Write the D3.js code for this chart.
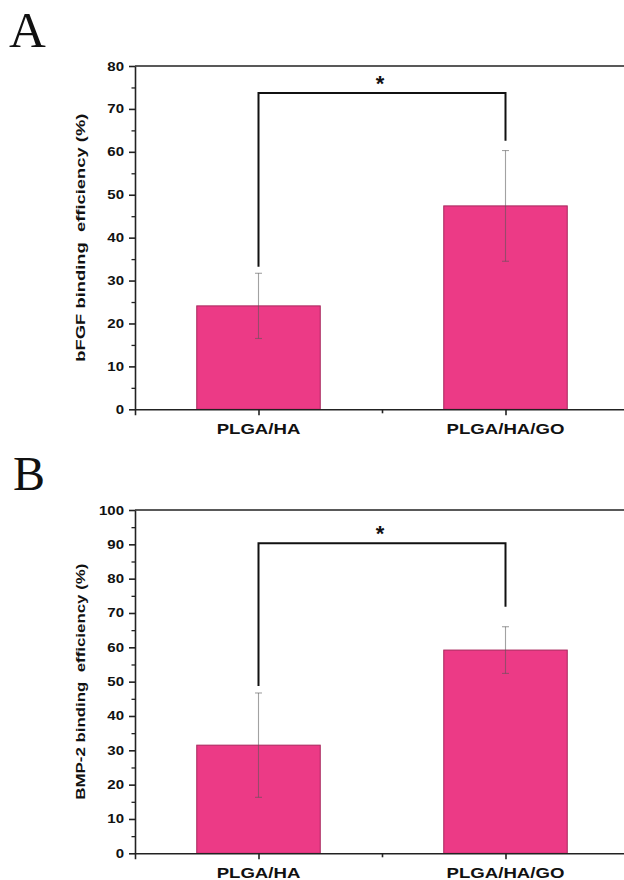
<!DOCTYPE html>
<html>
<head>
<meta charset="utf-8">
<script src="https://cdn.jsdelivr.net/npm/d3@7"></script>
<style>
  html, body { margin: 0; padding: 0; background: #fff; }
  svg { display: block; }
</style>
</head>
<body>
<svg id="chart" width="624" height="880"></svg>
<script>
// ---- data ----
const categories = ["PLGA/HA", "PLGA/HA/GO"];
const bfgfMeans = [24.1, 47.4];
const bfgfErrors = [7.6, 12.9];
const bmp2Means = [31.5, 59.2];
const bmp2Errors = [15.2, 6.8];
const bfgfTicks = [0, 10, 20, 30, 40, 50, 60, 70, 80];
const bmp2Ticks = [0, 10, 20, 30, 40, 50, 60, 70, 80, 90, 100];
// significance bracket: [left leg bottom, bracket top, right leg bottom]
const bfgfBracket = [33.2, 73.7, 62.6];
const bmp2Bracket = [48.7, 90.3, 71.8];
const panelLetters = ["A", "B"];
const yLabels = ["bFGF binding\u00a0\u00a0efficiency (%)", "BMP-2 binding\u00a0\u00a0efficiency (%)"];

const svg = d3.select("#chart");
const SANS = "'Liberation Sans', Arial, sans-serif";
const SERIF = "'Liberation Serif', 'Times New Roman', serif";
const barColor = "#ec3a86";
const barStroke = "#a8275c";

const x = d3.scaleLinear().domain([0.5, 2.5]).range([135, 629]);
const catPos = [1, 2];

function stretch(sel, f) {
  sel.each(function () {
    const L = this.getComputedTextLength();
    d3.select(this).attr("textLength", L * f).attr("lengthAdjust", "spacingAndGlyphs");
  });
}

function panel(cfg) {
  const g = svg.append("g");
  const y = d3.scaleLinear().domain([0, cfg.max]).range([cfg.bottom, cfg.top]);

  // bars
  g.selectAll("rect.bar").data(cfg.means).join("rect")
    .attr("class", "bar")
    .attr("x", (d, i) => x(catPos[i] - 0.25))
    .attr("width", x(1.5) - x(1))
    .attr("y", d => y(d))
    .attr("height", d => y(0) - y(d))
    .attr("fill", barColor)
    .attr("stroke", barStroke)
    .attr("stroke-width", 1);

  // error bars
  const eb = g.selectAll("g.err").data(cfg.means).join("g").attr("class", "err")
    .attr("stroke", "#555").attr("stroke-opacity", 0.55).attr("stroke-width", 1.1);
  eb.append("line")
    .attr("x1", (d, i) => x(catPos[i])).attr("x2", (d, i) => x(catPos[i]))
    .attr("y1", (d, i) => y(d - cfg.errs[i])).attr("y2", (d, i) => y(d + cfg.errs[i]));
  eb.append("line")
    .attr("x1", (d, i) => x(catPos[i]) - 3.5).attr("x2", (d, i) => x(catPos[i]) + 3.5)
    .attr("y1", (d, i) => y(d + cfg.errs[i])).attr("y2", (d, i) => y(d + cfg.errs[i]));
  eb.append("line")
    .attr("x1", (d, i) => x(catPos[i]) - 3.5).attr("x2", (d, i) => x(catPos[i]) + 3.5)
    .attr("y1", (d, i) => y(d - cfg.errs[i])).attr("y2", (d, i) => y(d - cfg.errs[i]));

  // frame: top and right lines
  g.append("line").attr("x1", x(0.5)).attr("x2", x(2.5))
    .attr("y1", y(cfg.max)).attr("y2", y(cfg.max))
    .attr("stroke", "#222").attr("stroke-width", 1.6);
  g.append("line").attr("x1", x(2.5)).attr("x2", x(2.5))
    .attr("y1", y(cfg.max)).attr("y2", y(0))
    .attr("stroke", "#222").attr("stroke-width", 1.6);

  // y axis
  const minor = d3.range(5, cfg.max, 10);
  g.append("g").attr("transform", `translate(${x(0.5)},0)`)
    .call(d3.axisLeft(y).tickValues(minor).tickSize(3.5).tickFormat(""))
    .call(a => a.select(".domain").remove())
    .selectAll("line").attr("stroke", "#222").attr("stroke-width", 1.3);
  const ya = g.append("g").attr("transform", `translate(${x(0.5)},0)`)
    .call(d3.axisLeft(y).tickValues(cfg.ticks).tickSize(6).tickPadding(5).tickSizeOuter(0));
  ya.select(".domain").attr("stroke", "#222").attr("stroke-width", 1.6);
  ya.selectAll("line").attr("stroke", "#222").attr("stroke-width", 1.6);
  ya.selectAll("text").style("font-family", SANS).style("font-size", "12.5px")
    .style("font-weight", "bold").attr("fill", "#111")
    .call(stretch, 1.2);

  // x axis
  const xa = g.append("g").attr("transform", `translate(0,${y(0)})`)
    .call(d3.axisBottom(x).tickValues([1, 1.5, 2, 2.5]).tickSizeOuter(0)
      .tickSize(6).tickFormat(""));
  xa.select(".domain").attr("stroke", "#222").attr("stroke-width", 1.6);
  xa.selectAll(".tick line").attr("stroke", "#222").attr("stroke-width", 1.6)
    .attr("y2", d => (d % 1 === 0 ? 6 : 4));

  g.selectAll("text.xl").data(categories).join("text")
    .attr("class", "xl")
    .attr("x", (d, i) => x(catPos[i]))
    .attr("y", y(0) + 24.7)
    .attr("text-anchor", "middle")
    .style("font-family", SANS).style("font-size", "15.5px").style("font-weight", "bold")
    .attr("fill", "#111")
    .text(d => d)
    .call(stretch, 1.2);

  // y label
  const yc = (cfg.top + cfg.bottom) / 2;
  g.append("text")
    .attr("transform", `translate(85,${yc}) rotate(-90)`)
    .attr("text-anchor", "middle")
    .style("font-family", SANS).style("font-size", "13.5px").style("font-weight", "bold")
    .attr("fill", "#111")
    .text(cfg.ylabel)
    .attr("textLength", cfg.ylen).attr("lengthAdjust", "spacingAndGlyphs");

  // significance bracket
  const b = cfg.bracket;
  g.append("path")
    .attr("d", `M${x(1)},${y(b[0])}V${y(b[1])}H${x(2)}V${y(b[2])}`)
    .attr("fill", "none").attr("stroke", "#111").attr("stroke-width", 2);
  g.append("text")
    .attr("x", x(1.5) - 2).attr("y", y(b[1]) - 2)
    .attr("text-anchor", "middle")
    .style("font-family", SANS).style("font-size", "22px").style("font-weight", "bold")
    .attr("fill", "#111")
    .text("*");

  // panel letter
  g.append("text")
    .attr("x", cfg.lx).attr("y", cfg.ly)
    .style("font-family", SERIF).style("font-size", cfg.lsize + "px")
    .attr("fill", "#111")
    .text(cfg.letter);
}

panel({ means: bfgfMeans, errs: bfgfErrors, ticks: bfgfTicks, max: 80,
  top: 66, bottom: 409.3, bracket: bfgfBracket, ylabel: yLabels[0], ylen: 248,
  letter: panelLetters[0], lx: 9, ly: 47, lsize: 51 });
panel({ means: bmp2Means, errs: bmp2Errors, ticks: bmp2Ticks, max: 100,
  top: 510, bottom: 853.3, bracket: bmp2Bracket, ylabel: yLabels[1], ylen: 236,
  letter: panelLetters[1], lx: 13, ly: 490, lsize: 48 });
</script>
</body>
</html>
